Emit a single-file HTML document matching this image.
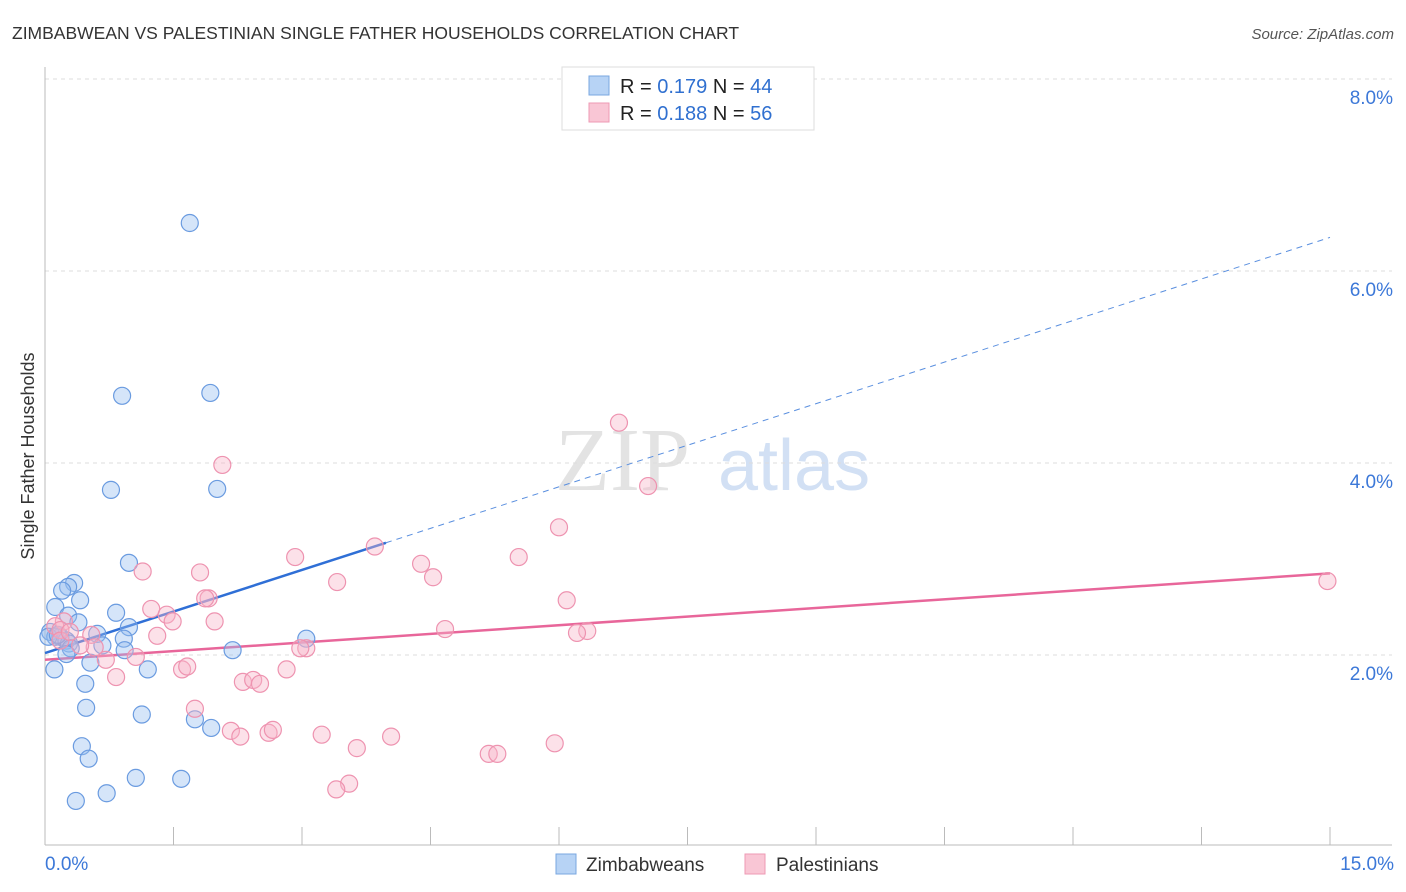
<!DOCTYPE html>
<html><head><meta charset="utf-8"><style>
body{margin:0;background:#fff;font-family:"Liberation Sans",sans-serif;}
svg{display:block}
</style></head><body>
<svg id="chart" width="1406" height="892">
<text x="12" y="39" font-size="17.5" fill="#333">ZIMBABWEAN VS PALESTINIAN SINGLE FATHER HOUSEHOLDS CORRELATION CHART</text>
<text x="1394" y="39" font-size="15" fill="#555" font-style="italic" text-anchor="end">Source: ZipAtlas.com</text>
<text transform="translate(34,456) rotate(-90)" font-size="18" fill="#333" text-anchor="middle">Single Father Households</text>
<g><text x="555" y="490" font-size="90" fill="#ddd" font-family="Liberation Serif,serif" opacity="0.8">ZIP</text><text x="718" y="490" font-size="72" fill="#c7d9f2" opacity="0.8">atlas</text></g>
<g id="grid"></g><g id="axes"></g><g id="trends"></g><g id="pts"></g>
<g>
<rect x="562" y="67" width="252" height="63" fill="#fff" stroke="#ddd"/>
<rect x="589" y="76" width="20" height="19" fill="#b7d3f5" stroke="#7aa7e0"/>
<rect x="589" y="103" width="20" height="19" fill="#f9c6d5" stroke="#ee9ab4"/>
<text x="620" y="93" font-size="20" fill="#222">R = <tspan fill="#3070d0">0.179</tspan>   N = <tspan fill="#3070d0">44</tspan></text>
<text x="620" y="120" font-size="20" fill="#222">R = <tspan fill="#3070d0">0.188</tspan>   N = <tspan fill="#3070d0">56</tspan></text>
</g>
<g>
<rect x="556" y="854" width="20" height="20" fill="#b7d3f5" stroke="#7aa7e0"/><text x="586" y="871" font-size="19" fill="#333">Zimbabweans</text>
<rect x="745" y="854" width="20" height="20" fill="#f9c6d5" stroke="#ee9ab4"/><text x="776" y="871" font-size="19" fill="#333">Palestinians</text>
</g>
</svg>
<script>
const xTicks=[0,1.5,3,4.5,6,7.5,9,10.5,12,13.5,15];
const yTicks=[2,4,6,8];
const yTickLabels=["2.0%","4.0%","6.0%","8.0%"];
const blueX=[1.69,0.90,1.93,0.77,2.01,0.98,0.34,0.27,0.20,0.41,0.12,0.83,0.27,0.39,0.98,0.06,0.61,0.18,0.12,0.92,0.25,0.28,0.67,0.30,0.93,2.19,3.05,0.25,0.53,1.20,0.11,0.47,0.48,1.13,1.75,1.94,0.43,0.51,1.06,1.59,0.72,0.36,0.04,0.15];
const blueY=[6.50,4.70,4.73,3.72,3.73,2.96,2.75,2.71,2.67,2.57,2.50,2.44,2.41,2.34,2.29,2.24,2.22,2.19,2.19,2.17,2.15,2.12,2.10,2.07,2.05,2.05,2.17,2.01,1.92,1.85,1.85,1.70,1.45,1.38,1.33,1.24,1.05,0.92,0.72,0.71,0.56,0.48,2.19,2.21];
const pinkX=[6.70,2.07,7.04,6.00,3.85,2.92,5.53,4.39,1.14,1.81,4.53,3.41,6.09,1.91,1.24,1.42,1.49,0.22,1.98,4.67,6.33,6.21,1.31,0.54,0.12,0.18,0.18,0.58,3.05,0.71,1.06,1.60,1.66,2.82,0.83,2.31,2.43,2.51,1.75,2.17,2.28,2.61,2.66,3.23,3.64,4.04,5.18,5.28,5.95,3.55,3.40,14.97,0.41,0.29,1.87,2.98];
const pinkY=[4.42,3.98,3.76,3.33,3.13,3.02,3.02,2.95,2.87,2.86,2.81,2.76,2.57,2.59,2.48,2.42,2.35,2.35,2.35,2.27,2.25,2.23,2.20,2.21,2.30,2.26,2.15,2.08,2.07,1.95,1.98,1.85,1.88,1.85,1.77,1.72,1.74,1.70,1.44,1.21,1.15,1.19,1.22,1.17,1.03,1.15,0.97,0.97,1.08,0.66,0.60,2.77,2.10,2.24,2.59,2.07];
const blueTrend=[2.02,6.35]; // y at x=0 and x=15
const pinkTrend=[1.95,2.85];
const blueSolidEnd=3.98;
const NS="http://www.w3.org/2000/svg";
const X=v=>45+v*1285/15, Y=v=>847-v*96;
function mk(tag,attrs,parent){const e=document.createElementNS(NS,tag);for(const k in attrs)e.setAttribute(k,attrs[k]);document.getElementById(parent).appendChild(e);return e;}
yTicks.forEach((t,i)=>{
 const l=mk('line',{x1:45,x2:1392,y1:Y(t),y2:Y(t),stroke:'#ddd','stroke-dasharray':'4,4'},'grid');
 
 
 const tx=mk('text',{x:1393,y:Y(t)+25,'font-size':19,fill:'#3c78d8','text-anchor':'end'},'grid');
 tx.textContent=yTickLabels[i];
 
 
});
const ax=mk('line',{x1:45,x2:1392,y1:845,y2:845,stroke:'#bbb'},'axes');


const ay=mk('line',{x1:45,x2:45,y1:67,y2:845,stroke:'#bbb'},'axes');


xTicks.forEach(t=>{const l=mk('line',{x1:X(t),x2:X(t),y1:827,y2:845,stroke:'#bbb'},'axes');
 
 });
[[0,"0.0%","start",45],[15,"15.0%","end",1394]].forEach(a=>{const t=mk('text',{x:a[3],y:870,'font-size':19,fill:'#3c78d8','text-anchor':a[2]},'axes');t.textContent=a[1];
 
 });
const by=x=>blueTrend[0]+(blueTrend[1]-blueTrend[0])*x/15;
const py=x=>pinkTrend[0]+(pinkTrend[1]-pinkTrend[0])*x/15;
const b1=mk('line',{x1:X(0),y1:Y(by(0)),x2:X(blueSolidEnd),y2:Y(by(blueSolidEnd)),stroke:'#2f6fd6','stroke-width':2.5},'trends');


const b2=mk('line',{x1:X(blueSolidEnd),y1:Y(by(blueSolidEnd)),x2:X(15),y2:Y(by(15)),stroke:'#5a8fdf','stroke-width':1,'stroke-dasharray':'6,5'},'trends');


const p1=mk('line',{x1:X(0),y1:Y(py(0)),x2:X(15),y2:Y(py(15)),stroke:'#e8669a','stroke-width':2.5},'trends');


blueX.forEach((x,i)=>{const c=mk('circle',{cx:X(x),cy:Y(blueY[i]),r:8.5,fill:'rgba(150,190,240,0.4)',stroke:'#6a9be0','stroke-width':1.2},'pts');
 
 });
pinkX.forEach((x,i)=>{const c=mk('circle',{cx:X(x),cy:Y(pinkY[i]),r:8.5,fill:'rgba(248,180,200,0.4)',stroke:'#ee93b0','stroke-width':1.2},'pts');
 
 });
</script>
</body></html>
